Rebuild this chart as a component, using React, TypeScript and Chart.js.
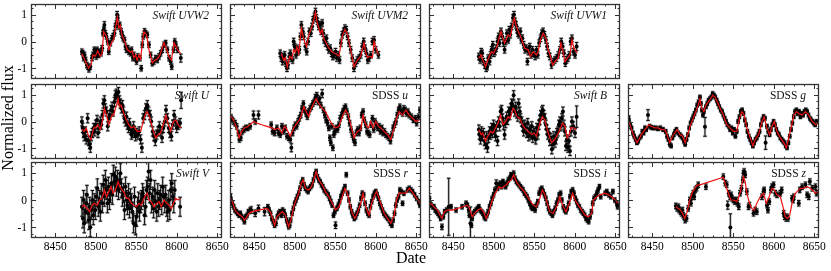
import React, { useEffect, useRef } from "react";
import { Chart, registerables } from "chart.js";
Chart.register(...registerables);

const X_MIN = 8420;
const X_MAX = 8656;
const Y_MIN = -1.4;
const Y_MAX = 1.4;
const xTickValues = [8450, 8500, 8550, 8600, 8650];
const yTickValues = [-1, 0, 1];
const xMinorStep = 12.5;
const yMinorStep = 0.25;

// observations: [date, normalized flux, optional error]
const uvw2Obs = [[8482.9,-0.38],[8484.2,-0.44],[8485,-0.62],[8486.2,-0.5],[8487.5,-0.69],[8489.1,-0.88],[8490.4,-0.94],[8491.6,-1.04],[8493.3,-0.94],[8495.4,-0.62],[8496.6,-0.5],[8498.2,-0.31],[8499.5,-0.44],[8500.7,-0.56],[8501.6,-0.31],[8503.6,-0.5],[8504.9,-0.38],[8506.5,-0.44],[8507.8,-0.25],[8509,0.31],[8509.8,0.44],[8510.7,0.62,0.12],[8511.9,0.31],[8513.2,0.19],[8514.8,0],[8516.1,-0.38],[8518.1,-0.06],[8520.2,0.12],[8521.4,0.19],[8523.1,0.31],[8524.3,0.56],[8525.6,0.69],[8526.4,1.0,0.12],[8527.2,0.88],[8528.5,0.56],[8529.7,0.62],[8531.4,0.38],[8532.6,0.25],[8533.9,0.12],[8535.5,0.06],[8536.8,-0.19],[8538,-0.31],[8539.6,-0.25],[8540.9,-0.38],[8543,-0.44],[8544.2,-0.31],[8545.9,-0.62],[8547.1,-0.5],[8549.2,-0.62],[8550.4,-0.75],[8552.1,-0.56],[8554.6,-0.62],[8556.2,-1.0],[8557.5,-0.12],[8558.7,0.19],[8560.3,0.38],[8561.6,0.31],[8563.7,0.25],[8565.7,-0.12],[8567.8,-0.5],[8569.9,-0.81],[8571.9,-0.75],[8574,-0.62],[8576.1,-0.69],[8578.2,-0.56],[8580.2,-0.44],[8582.3,-0.31],[8584.4,-0.12],[8586.4,-0.06],[8588.5,-0.31],[8590.6,-0.62],[8592.6,-0.75],[8593.9,-0.94],[8596,-0.31],[8597.6,0],[8598.9,-0.12],[8600.9,-0.31],[8605.1,-0.62,0.15]];
const uvw2Model = [[8482.9,-0.45],[8485,-0.6],[8488.3,-0.8],[8491.2,-1.0],[8494.1,-0.85],[8496.6,-0.5],[8499.5,-0.55],[8502.4,-0.35],[8505.7,-0.55],[8507.8,-0.45],[8509.8,0.37],[8513.2,0.2],[8516.1,-0.3],[8520.2,0.0],[8522.3,0.1],[8524.3,0.5],[8526.8,0.9],[8528.5,0.5],[8530.5,0.6],[8532.6,0.2],[8534.7,0.1],[8536.8,-0.1],[8538.8,-0.3],[8543,-0.4],[8545,-0.35],[8547.1,-0.6],[8549.2,-0.5],[8551.2,-0.7],[8553.3,-0.5],[8555.4,-0.65],[8557.5,-0.1],[8559.5,0.37],[8562.8,0.25],[8565.7,-0.3],[8569.9,-0.8],[8572.8,-0.7],[8576.1,-0.65],[8579.4,-0.5],[8584.4,-0.05],[8587.7,-0.3],[8590.6,-0.6],[8593.5,-0.7],[8596.8,-0.05],[8600.9,-0.3],[8605.1,-0.45]];

const uvm2Obs = [[8482.1,-0.44],[8483.4,-0.62],[8485,-0.75],[8486.3,-0.56],[8487.5,-0.5],[8489.1,-0.81],[8490.4,-1.0],[8491.6,-0.88],[8493.3,-0.56],[8494.5,-0.44],[8495.8,-0.62],[8497.4,-0.69],[8498.7,0],[8499.9,-0.19],[8501.6,-0.5],[8502.8,-0.25],[8504.1,-0.38],[8505.7,-0.31],[8507,0.19],[8508.2,0.62],[8509.8,0.38],[8511.1,0.19],[8513.2,-0.19],[8514.8,-0.38],[8516.5,0],[8518.1,0.38],[8519.8,0.31],[8521.4,0.56],[8522.7,0.81],[8524.3,0.94],[8525.6,1.12],[8526.8,0.88],[8528.1,0.75],[8529.7,0.56],[8531,0.62],[8532.6,0.38],[8533.9,0.69],[8535.1,0.31],[8536.3,0.06],[8538,-0.06],[8539.2,0.12],[8540.5,-0.19],[8542.1,-0.31],[8543.8,-0.25],[8545.5,-0.44],[8547.1,-0.56],[8548.8,-0.5],[8550.4,-0.38],[8552.1,-0.62],[8553.7,-0.5],[8555.4,-0.69],[8557,-0.06],[8558.7,0.25],[8560.4,0.38],[8562,0.5],[8563.7,0.44],[8565.3,0.19],[8567,-0.06],[8569.1,-0.31],[8571.1,-0.62],[8573.2,-1.0],[8575.3,-0.81],[8577.3,-0.69],[8579.4,-0.62],[8581.5,-0.5],[8583.5,-0.19],[8585.2,0],[8586.9,-0.25],[8588.5,-0.44],[8590.2,-0.69],[8591.8,-0.62],[8593.9,-0.5],[8596,0],[8598,0.06],[8600.1,-0.31],[8603.4,-0.5]];
const uvm2Model = [[8483.4,-0.45],[8486.3,-0.7],[8488.3,-0.6],[8490.8,-0.95],[8493.7,-0.55],[8496.6,-0.65],[8498.7,-0.3],[8500.7,-0.4],[8502.8,-0.2],[8504.9,-0.45],[8508.2,0.5],[8511.1,0.1],[8514.4,-0.2],[8517.3,0.25],[8520.6,0.5],[8523.5,0.8],[8525.6,1.1],[8527.7,0.7],[8529.7,0.5],[8531.8,0.3],[8533.9,0.45],[8535.9,0.1],[8538,0.0],[8542.1,-0.25],[8546.3,-0.4],[8550.4,-0.45],[8554.6,-0.55],[8556.6,-0.2],[8558.7,0.2],[8562,0.45],[8564.9,0.3],[8569.1,-0.3],[8573.2,-0.95],[8577.3,-0.7],[8581.5,-0.55],[8585.6,-0.05],[8587.7,-0.4],[8589.8,-0.6],[8592.6,-0.55],[8596,-0.6],[8598,0.0],[8600.1,-0.2],[8603.4,-0.5]];

const uvw1Obs = [[8481.6,-0.56],[8483.2,-0.69],[8484.5,-0.38],[8485.7,-0.44],[8487.3,-0.75],[8489,-0.88],[8490.7,-1.0],[8491.9,-0.94],[8493.1,-0.62],[8494.8,-0.75],[8496,-0.5],[8497.3,-0.31],[8498.9,-0.12],[8500.2,-0.44],[8501.4,-0.38],[8503.1,-0.25],[8504.7,0],[8506,0.19],[8507.2,-0.06],[8508.9,0.38],[8510.5,0.19],[8512.2,-0.06],[8513.4,-0.31],[8514.7,0],[8516.3,0.31],[8518,0.06],[8519.2,0.44],[8520.5,0.25],[8522.1,0.56],[8523.8,0.88],[8525,1.0],[8526.3,0.75],[8527.5,0.62],[8528.7,0.44],[8530,0.31],[8531.2,0.25],[8532.9,0.38],[8534.1,0.06],[8535.4,0.12],[8537,-0.12],[8538.7,-0.31],[8540.3,-0.25],[8541.6,-0.75],[8542.8,-0.38],[8544.5,-0.19],[8546.1,-0.5],[8547.8,-0.31],[8549.4,-0.44],[8551.1,-0.56],[8552.8,-0.31],[8554.4,-0.5],[8556.1,-0.06],[8557.7,0.12],[8559.4,0.31],[8561,0.38],[8562.7,0.25],[8564.4,0.06],[8566,-0.19],[8567.7,-0.44],[8569.3,-0.56],[8571.4,-0.88],[8573.5,-0.75],[8575.5,-0.69],[8577.6,-0.62],[8579.7,-0.5],[8581.7,-0.31],[8583.4,0],[8585.1,-0.19],[8586.7,-0.44],[8588.4,-0.81],[8590,-0.69],[8591.7,-0.62],[8593.3,-0.5],[8595,0],[8596.6,0.12],[8598.3,-0.38],[8600.4,-0.5],[8602.4,-0.19,0.15]];
const uvw1Model = [[8481.6,-0.62],[8484.5,-0.5],[8486.5,-0.69],[8489.8,-0.94],[8492.7,-0.69],[8496.9,-0.38],[8499.8,-0.44],[8503.9,-0.19],[8508.9,0.38],[8511.4,0.12],[8513.4,-0.06],[8517.6,0.25],[8520.5,0.19],[8523,0.56],[8525.4,0.88],[8527.9,0.56],[8531.2,0.31],[8534.1,0.12],[8538.3,-0.25],[8542.4,-0.31],[8545.3,-0.56],[8548.6,-0.38],[8552.8,-0.5],[8554.8,-0.38],[8557.7,0.06],[8561,0.31],[8564.4,0.12],[8567.3,-0.31],[8570.1,-0.56],[8572.6,-0.88],[8575.5,-0.75],[8579.7,-0.62],[8583,-0.06],[8585.1,-0.31],[8588,-0.75],[8590.8,-0.62],[8594.2,-0.5],[8596.6,0.06],[8599.1,-0.25],[8603.3,-0.44]];

const uObs = [[8482.9,0],[8483.8,-0.24],[8485,-0.43],[8485.8,-0.55],[8487.1,-0.37],[8488.3,-0.67],[8490,0.12],[8491.2,-0.73],[8492.5,-0.85],[8493.3,-0.98],[8494.5,-0.55],[8495.8,-0.43],[8497.4,-0.24],[8498.7,-0.37],[8499.9,-0.12],[8501.6,0.06],[8502.8,-0.43],[8504,-0.24],[8505.7,0],[8506.9,-0.12],[8508.2,0.24],[8509.4,0.67],[8510.7,0.79],[8511.9,0.49],[8513.2,0.37],[8514.8,-0.18],[8516.1,0.12],[8517.3,0.24],[8519,0.43],[8520.2,0.55],[8521.4,0.37],[8523.1,0.73],[8524.3,0.98],[8525.6,1.04],[8526.8,0.91],[8528.1,1.1],[8529.3,0.79],[8530.5,0.67],[8531.8,0.49],[8533,0.61],[8534.3,0.37],[8535.5,0.12],[8536.8,0],[8538,0.18],[8539.2,-0.12],[8540.5,-0.24],[8541.7,-0.06],[8543,-0.3],[8544.2,-0.49],[8545.4,-0.43],[8546.7,-0.18],[8547.9,-0.37],[8549.2,-0.55],[8550.4,-0.43],[8552.1,-0.49],[8553.7,-0.37],[8555.4,-0.67],[8557,-0.98],[8558.7,0.12],[8560.3,0.24],[8562,0.49],[8563.7,0.61],[8565.3,0.37],[8567,0.24],[8568.6,0],[8570.3,-0.37],[8571.9,-0.55],[8573.6,-0.73],[8575.3,-0.49],[8576.9,-0.37],[8578.6,-0.18],[8580.2,-0.37],[8581.9,-0.61],[8583.5,-0.24],[8585.2,0],[8586.8,0.43],[8588.5,0.12],[8590.2,-0.24],[8591.8,-0.43],[8593.5,-0.55],[8595.1,-0.12],[8596.8,0.24],[8598.4,0],[8600.1,-0.24],[8602.2,-0.12],[8604.2,-0.06],[8605.5,0.79,0.3]];
const uModel = [[8482.9,-0.3],[8485.8,-0.37],[8488.3,-0.24],[8491.2,-0.55],[8494.1,-0.67],[8497.4,-0.24],[8499.5,-0.24],[8502.4,-0.12],[8505.7,-0.3],[8509,0.12],[8510.7,0.49],[8513.2,0.24],[8516.1,-0.12],[8520.2,0.24],[8522.3,0.24],[8524.3,0.49],[8526.4,0.67],[8527.6,0.85],[8529.3,0.55],[8531.4,0.61],[8533.9,0.37],[8536.8,0.12],[8540.9,-0.12],[8543.8,-0.24],[8547.1,-0.18],[8551.2,-0.37],[8555.4,-0.37],[8558.7,0],[8561.6,0.3],[8563.7,0.37],[8567,0.12],[8569.9,-0.24],[8574,-0.61],[8576.9,-0.49],[8580.2,-0.43],[8584.4,0],[8586.8,0.24],[8589.7,-0.12],[8592.6,-0.37],[8596,0],[8598.9,0.06],[8601.7,-0.12],[8605.1,-0.24]];

const bObs = [[8481.6,-0.3],[8482.4,-0.49],[8483.6,-0.67],[8484.9,-0.37],[8486.1,-0.55],[8487.3,-0.43],[8488.6,-0.73],[8489.8,-0.85],[8491.1,-0.55],[8492.3,-0.98],[8493.6,-0.61],[8494.8,-0.37],[8496,-0.49],[8497.3,-0.24],[8498.5,-0.43],[8499.8,-0.12],[8501,-0.3],[8502.3,-0.55],[8503.5,-0.18],[8504.7,-0.73],[8506,0],[8507.2,-0.18],[8508.5,0.37],[8509.7,0.43],[8510.9,0.12],[8512.2,-0.12],[8513.4,-0.49],[8514.7,-0.06],[8515.9,0.18],[8517.2,0.06],[8518.4,0.37],[8519.6,0.24],[8520.9,0.49],[8522.1,0.67],[8523.4,0.61],[8524.6,0.98],[8525.9,0.37],[8527.1,0.55],[8528.3,0.3],[8529.6,0.18],[8530.8,0.67],[8532.1,0.37],[8533.3,0.12],[8534.5,0],[8535.8,-0.18],[8537,-0.37],[8538.3,-0.12],[8539.5,-0.24],[8540.8,-0.43],[8542,-0.06],[8543.2,-0.55],[8544.5,-0.3],[8545.7,-0.49],[8547,-0.18],[8548.2,-0.61],[8549.4,-0.37],[8550.7,-0.43],[8551.9,-0.67],[8553.2,-0.24],[8554.4,-0.49],[8555.7,-0.12],[8556.9,0.06],[8558.1,0.24],[8559.4,0.37],[8560.6,0.43],[8561.9,0.24],[8563.1,0.12],[8564.4,-0.12],[8565.6,-0.3],[8566.8,-0.49],[8568.1,-0.43],[8569.3,-0.73],[8570.6,-0.61],[8571.8,-1.04],[8573,-0.85],[8574.3,-0.55],[8575.5,-0.79],[8576.8,-0.67],[8578,-0.43],[8579.3,-0.37],[8580.5,-0.12],[8581.7,0],[8583,-0.18],[8584.2,0.12],[8585.5,0.37],[8586.7,-0.12],[8588,-0.37],[8589.2,-0.91],[8590.4,-0.67],[8591.7,-0.98],[8592.9,-0.73],[8594.2,-1.1],[8595.4,-0.37],[8596.6,0],[8598.3,-0.18],[8600.4,-0.43],[8602.4,0.18,0.4]];
const bModel = [[8481.6,-0.3],[8484.5,-0.49],[8486.5,-0.43],[8489.8,-0.73],[8492.7,-0.55],[8496,-0.37],[8498.9,-0.43],[8502.3,-0.24],[8505.2,-0.06],[8508.5,0.24],[8511.4,-0.12],[8514.7,0],[8517.6,0.18],[8520.5,0.12],[8523.8,0.49],[8525.9,0.43],[8528.7,0.18],[8532.1,0.12],[8535.4,-0.12],[8538.3,-0.24],[8542.4,-0.37],[8546.6,-0.49],[8549.9,-0.43],[8552.8,-0.55],[8554.8,-0.3],[8557.7,0],[8560.2,0.18],[8563.1,0.06],[8567.3,-0.43],[8571.4,-0.79],[8575.5,-0.67],[8579.7,-0.43],[8582.6,-0.24],[8585.1,-0.06],[8588,-0.18],[8590.8,-0.61],[8593.3,-0.49],[8595.4,-0.24],[8598.3,-0.24],[8602.4,-0.3]];

const vObs = [[8482.9,-0.25],[8484.2,-0.68],[8485,0],[8485.8,-0.86],[8487.1,-0.43],[8488.3,-0.12],[8489.1,0.19],[8490.4,-0.49],[8491.6,-0.74],[8492.5,-0.25],[8493.3,-1.0],[8494.5,-0.37],[8495.8,0],[8497,-0.56],[8498.2,-0.12],[8499.5,-0.37],[8500.7,0.12],[8502,0.43],[8503.2,-0.25],[8504.5,0],[8505.7,-0.43],[8506.9,0.25],[8508.2,-0.12],[8509.4,0.56],[8510.7,0.12],[8511.9,0.74],[8513.2,0.37],[8514.4,-0.12],[8515.6,0.49],[8516.9,0],[8518.1,0.25],[8519.4,0.62],[8520.6,0.19],[8521.8,0.93],[8523.1,0.68],[8524.3,0.86],[8525.6,0.49],[8526.8,0.74],[8528.1,0.37],[8529.3,0.62],[8530.5,0.99],[8531.8,0.43],[8533,0.12],[8534.3,0.25],[8535.5,-0.37],[8536.8,0.49],[8538,0],[8539.2,-0.19],[8540.5,0.25],[8541.7,-0.31],[8543,0.06],[8544.2,-0.12],[8545.4,-0.43],[8546.7,-0.86],[8547.9,0.12],[8549.2,-0.93],[8550.4,-0.62],[8551.7,-0.25],[8552.9,-0.06],[8554.1,-0.43],[8555.4,-0.12],[8556.6,0],[8557.9,0.25],[8559.1,0.12],[8560.3,-0.56],[8561.6,-0.25],[8562.8,0.37],[8564.1,0.49],[8565.3,1.05],[8566.6,0.25],[8567.8,0.74],[8569,-0.12],[8570.3,0.12],[8571.5,-0.31],[8572.8,0.37],[8574,-0.06],[8575.3,-0.43],[8576.5,0.25],[8577.7,-0.25],[8579,0],[8580.2,0.19],[8581.5,-0.19],[8582.7,0.49],[8583.9,0.12],[8585.2,-0.12],[8586.4,0.19],[8587.7,-0.25],[8588.9,-0.43],[8590.2,0],[8591.4,-0.37],[8592.6,0.37],[8593.9,0.62],[8595.1,0.12],[8596.4,-0.12],[8597.6,0.37],[8604.2,-0.25]];
const vModel = [[8482.9,-0.25],[8485.8,-0.19],[8489.1,-0.31],[8492.5,-0.43],[8495.4,-0.19],[8498.7,-0.12],[8501.6,-0.19],[8504.9,0],[8507.8,0.06],[8510.7,0.37],[8513.2,0.12],[8516.1,0.31],[8519,0.49],[8521.4,0.25],[8524.3,0.37],[8526.4,0.56],[8527.6,0.68],[8529.7,0.49],[8532.6,0.37],[8535.5,0.25],[8538,0.06],[8540.9,0.06],[8543.8,-0.12],[8547.1,-0.19],[8550.4,-0.25],[8553.3,-0.12],[8556.2,-0.19],[8558.7,0],[8561.6,0.19],[8563.7,0.25],[8565.7,0],[8568.6,-0.06],[8571.9,-0.25],[8575.3,-0.12],[8578.2,-0.06],[8581,-0.25],[8584.4,0],[8587.7,-0.12],[8590.6,-0.19],[8593.5,-0.31],[8596,-0.12],[8598.9,0.06],[8601.7,0],[8604.2,0.06]];

const sdssUObs = [[8421.3,0.15],[8422.9,0.06],[8424.2,0],[8426.2,-0.06],[8428.3,-0.18],[8430.4,-0.43],[8431.6,-0.67],[8433.3,-0.61],[8435.3,-0.37],[8437.4,-0.3],[8439.5,-0.24],[8442,-0.24],[8444.9,-0.18],[8449,0.24,0.15],[8451.1,0],[8455.2,0.24,0.15],[8470.9,-0.12],[8472.6,-0.37],[8475.1,-0.43],[8478,-0.24],[8480,-0.43],[8482.1,-0.49],[8484.2,-0.18],[8486.3,-0.37],[8488.3,-0.24],[8490.4,-0.55],[8492.5,-0.61],[8494.5,-0.67],[8495.8,-0.98,0.15],[8497.4,-0.43],[8499.1,-0.24],[8500.7,-0.12],[8502.4,-0.18],[8504.1,0],[8505.7,0.12],[8507.4,0.24],[8509,0.49],[8510.7,0.67],[8512.3,0.43],[8514,0.3],[8515.6,0.18],[8517.3,0.37],[8519,0.49],[8520.6,0.55],[8522.3,0.67],[8523.9,0.73],[8525.6,0.91],[8527.2,0.98],[8528.9,0.73],[8530.5,0.85],[8532.2,0.61],[8533.9,1.04,0.15],[8535.5,0.43],[8537.2,0.24],[8538.8,0.06],[8540.5,-0.06],[8542.1,-0.24],[8543.4,-0.61],[8544.6,-0.79],[8545.9,-0.18],[8547.1,-0.98],[8548.4,-0.49],[8549.6,-0.37],[8551.2,-0.24],[8552.9,-0.3],[8554.6,-0.12],[8556.2,0.12],[8557.9,0.24],[8559.5,0.37],[8561.2,0.49],[8562.8,0.55],[8564.5,0.37],[8566.2,0.18],[8567.8,-0.06],[8569.5,-0.3],[8571.1,-0.49],[8572.8,-0.67],[8574.4,-0.79],[8576.1,-0.43],[8577.7,-0.3],[8579.4,-0.43],[8581.1,-0.24],[8582.7,0.24],[8584.4,0.37],[8586,0.06],[8587.7,-0.12],[8589.3,-0.37],[8591,-0.43],[8592.6,-0.49],[8594.3,-0.12],[8596,0.12],[8597.6,-0.3],[8599.3,0],[8600.9,-0.12],[8602.6,-0.24],[8604.2,-0.18],[8605.9,-0.37],[8607.6,-0.24],[8609.2,-0.43],[8610.9,-0.37],[8612.5,-0.49],[8614.6,-0.55],[8616.7,-0.61],[8618.3,-0.73],[8620,-0.49],[8621.6,-0.24],[8623.3,-0.12],[8625,0],[8626.6,0.24],[8628.3,0.43],[8629.9,0.55],[8631.6,0.37],[8633.2,0.3],[8634.9,0.49],[8636.5,0.43],[8638.2,0.3],[8639.8,0.37],[8641.5,0.24],[8644,0.18],[8646.5,0.06],[8649,0.12],[8650.6,-0.06],[8653.1,0.18],[8654.7,0.43]];
const sdssUModel = [[8420,0.24],[8424.2,0.06],[8428.3,-0.24],[8431.2,-0.61],[8434.5,-0.37],[8437.8,-0.24],[8442.8,-0.18],[8449,0],[8453.1,-0.06],[8459.3,-0.12],[8465.6,-0.18],[8471.8,-0.24],[8475.9,-0.3],[8480,-0.24],[8484.2,-0.43],[8487.5,-0.18],[8490.4,-0.3],[8494.5,-0.55],[8498.7,-0.24],[8502.8,-0.06],[8507,0.12],[8511.1,0.55],[8514,0.37],[8517.3,0.18],[8519.4,0.43],[8522.3,0.61],[8526.4,0.85],[8529.7,0.67],[8533.9,0.49],[8538,0.37],[8542.1,0.12],[8546.3,-0.12],[8550.4,-0.24],[8554.6,-0.18],[8558.7,0.18],[8562.8,0.43],[8566.2,0.24],[8569.1,-0.12],[8573.2,-0.61],[8577.3,-0.37],[8581.5,-0.3],[8584.4,0.24],[8587.7,-0.12],[8591,-0.24],[8593.9,0],[8596.8,-0.24],[8600.1,0],[8603.4,-0.18],[8606.3,-0.24],[8610.5,-0.37],[8614.6,-0.49],[8618.7,-0.67],[8622.9,-0.24],[8625.8,0.12],[8629.1,0.37],[8633.2,0.24],[8637.4,0.43],[8641.5,0.24],[8645.6,0.12],[8649.8,0],[8653.9,0.06]];

const gObs = [[8420.6,0.12],[8421.1,0.02],[8422.7,-0.12],[8424.4,-0.24],[8426.1,-0.43],[8427.7,-0.55],[8429.4,-0.67],[8431,-0.79],[8432.7,-0.73],[8434.3,-0.61],[8436,-0.55],[8437.7,-0.37],[8439.3,-0.43],[8441,-0.24],[8442.6,-0.3],[8444.7,0.24,0.2],[8446.8,-0.18],[8448.8,-0.22],[8450.9,-0.24],[8454.2,-0.24],[8457.1,-0.27],[8460,-0.24],[8463.3,-0.3],[8466.6,-0.37],[8468.3,-0.55],[8469.9,-0.67],[8471.6,-0.85],[8473.3,-0.91],[8474.9,-0.61],[8476.6,-0.49],[8478.2,-0.37],[8479.9,-0.3],[8482,-0.43],[8484,-0.49],[8485.7,-0.55],[8487.3,-0.61],[8489,-0.73],[8490.6,-0.85],[8492.3,-0.67],[8494,-0.49],[8495.6,-0.24],[8497.3,-0.06],[8498.9,0.06],[8500.6,0.18],[8502.2,0.3],[8503.9,0.43],[8505.5,0.61],[8507.2,0.73],[8508.9,0.91],[8510.1,0.67],[8511.3,0.43],[8512.6,0.24],[8513.8,0.37],[8515.1,-0.2,0.35],[8516.3,0.55],[8518,0.67],[8519.6,0.79],[8521.3,0.85],[8522.9,0.91],[8524.6,1.04],[8526.2,0.98],[8527.9,0.91],[8529.6,0.79],[8531.2,0.67],[8532.9,0.55],[8534.5,0.43],[8536.2,0.37],[8537.8,0.24],[8539.5,0.12],[8541.2,0],[8542.8,-0.12],[8544.5,-0.18],[8546.1,-0.3],[8547.8,-0.24],[8549.4,-0.43],[8551.1,-0.3],[8552.7,-0.55],[8554.4,-0.37],[8556.1,0],[8557.7,0.18],[8559.4,0.37],[8561,0.43],[8562.7,0.3],[8564.3,0.06],[8566,-0.12],[8567.6,-0.37],[8569.3,-0.55],[8571,-0.67],[8572.6,-0.79],[8574.3,-0.91],[8575.9,-0.79],[8577.6,-0.67],[8579.2,-0.61],[8580.9,-0.49],[8582.5,-0.37],[8584.2,-0.12],[8585.9,0.06],[8587.5,0.18],[8589.2,0.12],[8590,-0.79,0.25],[8591.7,-0.18],[8593.3,-0.37],[8595,-0.49],[8596.6,-0.3],[8598.3,-0.12],[8599.9,0],[8601.6,-0.12],[8603.3,-0.3],[8604.9,-0.43],[8606.6,-0.49],[8608.2,-0.61],[8609.9,-0.67],[8611.5,-0.73],[8613.2,-0.79],[8614.8,-0.91],[8616.5,-0.98],[8618.2,-0.79],[8619.8,-0.55],[8621.5,-0.3],[8623.1,-0.06],[8624.8,0.18],[8626.4,0.37],[8628.1,0.43],[8629.7,0.3],[8631.4,0.37],[8633.1,0.18],[8634.7,0.3],[8636.4,0.24],[8638,0.37],[8639.7,0.43],[8641.3,0.37],[8643,0.24],[8644.7,0.12],[8646.3,0.06],[8648,0],[8649.6,-0.06],[8651.3,-0.12],[8652.9,0]];
const gModel = [[8420,0.06],[8421.9,-0.06],[8425.2,-0.37],[8428.1,-0.61],[8431,-0.79],[8433.5,-0.67],[8436.4,-0.49],[8439.3,-0.37],[8442.6,-0.24],[8445.9,-0.12],[8448.8,-0.18],[8453,-0.24],[8457.1,-0.24],[8461.3,-0.3],[8465.4,-0.3],[8467.5,-0.43],[8471.6,-0.79],[8474.9,-0.55],[8477.8,-0.43],[8480.7,-0.3],[8484,-0.49],[8487.3,-0.55],[8490.6,-0.79],[8494.4,-0.43],[8497.3,-0.12],[8500.6,0.12],[8503.9,0.37],[8506.8,0.61],[8508.9,0.85],[8510.9,0.49],[8513.8,0.37],[8516.3,0.61],[8519.2,0.73],[8522.1,0.85],[8524.6,0.98],[8527.5,0.91],[8530.4,0.73],[8533.7,0.49],[8537.8,0.24],[8542,-0.12],[8546.1,-0.24],[8550.3,-0.37],[8554.4,-0.37],[8557.7,0.12],[8560.6,0.37],[8563.5,0.24],[8566.8,-0.24],[8571,-0.61],[8574.3,-0.91],[8577.2,-0.67],[8581.3,-0.49],[8585.5,0],[8588.3,0.18],[8591.7,-0.24],[8595,-0.49],[8597.9,-0.18],[8600.8,0],[8604.1,-0.37],[8608.2,-0.61],[8612.4,-0.79],[8615.7,-0.98],[8618.6,-0.61],[8621.5,-0.24],[8624.8,0.24],[8628.1,0.37],[8631,0.3],[8635.1,0.24],[8639.3,0.37],[8643.4,0.24],[8647.6,0],[8651.7,-0.12],[8653.8,-0.06]];

const rObs = [[8420.5,0.12],[8421.3,0],[8422.9,-0.12],[8424.6,-0.25],[8426.2,-0.37],[8427.9,-0.43],[8429.5,-0.49],[8431.2,-0.56],[8432.8,-0.49],[8434.5,-0.62],[8436.6,-0.68],[8437.8,-0.8],[8439.5,-0.62],[8441.1,-0.56],[8442.8,-0.43],[8444.9,-0.37],[8446.1,-0.37,0.12],[8451.1,-0.49,0.12],[8455.2,-0.31,0.12],[8462.7,-0.43,0.15],[8466.8,-0.25],[8468.4,-0.37],[8470.1,-0.49],[8471.8,-0.68],[8473.4,-0.8],[8475.1,-0.93],[8476.7,-0.86],[8478.4,-0.62],[8480,-0.49],[8481.7,-0.43],[8483.4,-0.56],[8485,-0.37],[8486.7,-0.43],[8488.3,-0.56],[8490,-0.74],[8491.6,-0.86],[8492.5,-0.99],[8493.7,-0.93],[8494.9,-0.74],[8496.6,-0.49],[8498.3,-0.31],[8499.9,-0.12],[8501.6,0],[8503.2,0.12],[8504.9,0.25],[8506.5,0.43],[8508.2,0.62],[8509.8,0.74],[8511.5,0.56],[8513.2,0.43],[8514.8,0.37],[8516.5,0.31],[8518.1,0.43],[8519.8,0.49],[8521.4,0.56],[8523.1,0.74],[8524.8,0.93],[8526.4,1.05],[8528.1,0.86],[8529.7,0.74],[8531.4,0.68],[8533,0.56],[8534.7,0.49],[8536.3,0.37],[8538,0.31],[8539.7,0.25],[8541.3,0.19],[8543,0.06],[8544.6,-0.06],[8546.3,-0.19],[8547.9,-0.56],[8549.6,-0.43],[8550.4,-0.93,0.12],[8552.1,-0.31],[8553.7,-0.19],[8555.4,-0.06],[8557,0.12],[8558.7,0.25],[8560.4,0.37],[8562,0.49],[8563.7,0.93],[8565.3,0.25],[8567,0],[8568.6,-0.25],[8570.3,-0.43],[8571.9,-0.56],[8573.6,-0.68],[8575.3,-0.62],[8576.9,-0.49],[8578.6,-0.37],[8580.2,-0.19],[8581.9,0.06],[8583.5,0.25],[8585.2,0.19],[8586.9,-0.12],[8588.5,-0.37],[8590.2,-0.49],[8591.8,-0.56],[8593.5,-0.25],[8595.1,-0.06],[8596.8,0.12],[8598.4,0.25],[8600.1,0.31],[8601.8,0.19],[8603.4,0.06],[8605.1,-0.12],[8606.7,-0.25],[8608.4,-0.37],[8610,-0.49],[8611.7,-0.56],[8613.3,-0.62],[8615,-0.68],[8616.7,-0.74],[8618.3,-0.86],[8620,-0.93],[8621.6,-0.74],[8623.3,-0.49],[8624.9,-0.19],[8626.6,0],[8628.3,0.12],[8629.9,0.37],[8631.6,0.31],[8633.2,-0.12],[8634.9,0.25],[8639.4,0.37],[8641.5,0.43],[8643.6,0.37],[8645.6,0.31],[8648.1,0.19],[8650.6,0.06],[8653.1,-0.06],[8654.7,-0.19]];
const rModel = [[8420,0.06],[8422.9,-0.06],[8426.2,-0.37],[8429.5,-0.49],[8432.4,-0.56],[8435.3,-0.62],[8437.8,-0.74],[8440.7,-0.62],[8443.6,-0.49],[8446.9,-0.43],[8465.6,-0.31],[8469.7,-0.43],[8472.6,-0.68],[8475.1,-0.93],[8478,-0.62],[8482.1,-0.49],[8485,-0.43],[8488.3,-0.56],[8492.5,-0.99],[8495.8,-0.68],[8498.7,-0.25],[8501.6,0],[8504.9,0.25],[8508.2,0.62],[8510.3,0.74],[8513.2,0.43],[8517.3,0.37],[8520.6,0.49],[8523.5,0.74],[8526.4,1.05],[8529.7,0.74],[8533.9,0.56],[8538,0.31],[8542.1,0.12],[8546.3,-0.12],[8550.4,-0.37],[8554.6,-0.25],[8558.7,0.12],[8562,0.43],[8564.9,0.25],[8567.8,-0.12],[8571.1,-0.49],[8574.4,-0.68],[8577.3,-0.49],[8581.5,-0.12],[8584.4,0.25],[8587.7,-0.25],[8591.8,-0.56],[8595.1,-0.12],[8598,0.12],[8600.9,0.31],[8604.2,0.06],[8607.6,-0.25],[8610.5,-0.49],[8614.6,-0.68],[8618.7,-0.86],[8622.9,-0.56],[8625.8,0],[8629.1,0.25],[8633.2,0.25],[8637.4,0.25],[8641.5,0.43],[8644.8,0.31],[8647.7,0.19],[8651.9,0],[8654.7,-0.12]];

const iObs = [[8420.5,0.06],[8421.1,-0.12],[8422.8,-0.19],[8424.4,-0.25],[8426.1,-0.25],[8427.7,-0.37],[8429.4,-0.43],[8431,-0.49],[8432.7,-0.56],[8434.4,-0.68],[8436,-0.99,0.1],[8437.7,-0.62],[8439.3,-0.43],[8441.8,-0.37],[8444.3,-0.25,1.05],[8447.2,-0.25],[8453.4,-0.37],[8460.9,-0.25],[8465.8,-0.12],[8467.5,-0.19],[8469.1,-0.37],[8470,-0.56],[8471.2,-0.86,0.6],[8472.4,-0.93],[8473.3,-0.68],[8474.9,-0.49],[8476.6,-0.43],[8478.2,-0.37],[8479.9,-0.31],[8481.6,-0.25],[8483.2,-0.37],[8484.9,-0.43],[8486.5,-0.49],[8488.2,-0.62],[8489.8,-0.68],[8491.5,-0.56],[8493.1,-0.43],[8494.8,-0.25],[8496.5,-0.12],[8498.1,0.06],[8499.8,0.19],[8501.4,0.37],[8503.1,0.62,0.12],[8504.7,0.43],[8506.4,0.56],[8508,0.62],[8509.7,0.49],[8511.4,0.68],[8513,0.56],[8514.7,0.49],[8516.3,0.62],[8518,0.74],[8519.6,0.8],[8521.3,0.93],[8523,0.86],[8524.6,0.99],[8526.3,0.8],[8527.9,0.68],[8529.6,0.62],[8531.2,0.56],[8532.9,0.49],[8534.5,0.43],[8536.2,0.37],[8537.9,0.25],[8539.5,0.19],[8541.2,0.12],[8542.8,0],[8544.5,-0.12],[8546.1,-0.25],[8547.8,-0.31],[8549.4,-0.25],[8551.1,-0.37],[8552.8,-0.19],[8554.4,-0.06],[8556.1,0.25],[8557.7,0.37],[8559.4,0.43],[8561,0.31],[8562.7,0.19],[8564.4,0.06],[8566,-0.12],[8567.7,-0.31],[8569.3,-0.43],[8571,-0.49],[8572.6,-0.56],[8574.3,-0.43],[8575.9,-0.31],[8577.6,-0.12],[8579.3,0],[8580.9,0.19],[8582.6,0.25],[8584.2,0],[8585.9,-0.25],[8587.5,-0.37],[8589.2,-0.43],[8590.8,-0.31],[8592.5,-0.12],[8594.2,0.12],[8595.8,0.31],[8597.5,0.37],[8599.1,0.25],[8600.8,0.06],[8602.4,-0.06],[8604.1,-0.19],[8605.8,-0.25],[8607.4,-0.37],[8609.1,-0.43],[8610.7,-0.49],[8612.4,-0.56],[8614,-0.68],[8615.7,-0.74],[8617.3,-0.8],[8619,-0.62],[8620.7,-0.43],[8622.3,-0.12],[8624,0.06],[8625.6,0.12],[8627.3,0.25],[8628.9,0.37],[8630.6,0.49],[8632.2,0.12],[8637.6,0.25],[8639.7,0.31],[8642.2,0.19],[8644.7,0.12],[8647.2,0.31],[8649.6,0],[8652.1,-0.12],[8653,-0.25]];
const iModel = [[8420.5,-0.1],[8424.4,-0.19],[8427.7,-0.31],[8430.6,-0.37],[8433.5,-0.56],[8436,-0.68],[8438.9,-0.43],[8443.1,-0.37],[8449.3,-0.37],[8455.5,-0.31],[8461.7,-0.25],[8467.9,-0.19],[8470.8,-0.37],[8473.3,-0.62],[8476.2,-0.49],[8480.3,-0.37],[8484.5,-0.31],[8487.3,-0.43],[8490.7,-0.68],[8494,-0.43],[8496.9,-0.12],[8499.8,0.12],[8503.1,0.31],[8506.4,0.49],[8509.3,0.43],[8512.2,0.49],[8515.5,0.56],[8518.8,0.68],[8521.7,0.74],[8524.6,0.93],[8527.9,0.68],[8532.1,0.49],[8536.2,0.37],[8540.3,0.19],[8544.5,0],[8548.6,-0.19],[8552.8,-0.25],[8556.9,0.06],[8560.2,0.37],[8563.1,0.19],[8566,-0.12],[8569.3,-0.43],[8573.5,-0.49],[8577.6,-0.25],[8581.7,0.12],[8585.1,-0.19],[8589.2,-0.43],[8593.3,-0.12],[8597.5,0.25],[8600.4,0],[8604.5,-0.19],[8608.7,-0.37],[8612.8,-0.56],[8616.9,-0.62],[8621.1,-0.49],[8623.1,0],[8627.3,0.12],[8631.4,0.19],[8637.6,0.25],[8641.8,0.19],[8645.9,0.12],[8650.1,0],[8653,-0.12]];

const zObs = [[8479.1,-0.22],[8480.7,-0.31],[8482.4,-0.25],[8483.2,-0.37],[8484.8,-0.43],[8486.1,-0.49],[8487.3,-0.37],[8488.2,-0.56],[8489.4,-0.62],[8490.6,-0.74],[8492.3,-0.68],[8494.4,-0.31],[8496.4,0],[8497.7,-0.12],[8498.9,0.12],[8500.6,0.25],[8501.8,0.12],[8503.1,0.37],[8504.7,0.43],[8506.8,0.56],[8516.3,0.49],[8537.8,0.86],[8540.3,0.62],[8542,0.56],[8543.2,-0.19,0.15],[8544.5,0.25],[8546.1,0.12],[8546.5,-1.01,0.5],[8547.4,0.19],[8548.6,0.06],[8550.3,0],[8551.9,-0.06],[8553.6,0],[8555.2,-0.12],[8556.9,-0.25],[8558.5,0.25],[8560.2,0.43],[8561.9,0.74],[8562.7,0.99],[8563.5,1.05],[8564.8,0.93],[8566.8,0.31],[8568.9,-0.25],[8570.1,-0.19],[8575.1,-0.49],[8577.2,-0.37],[8579.2,-0.43],[8585.5,0.12],[8587.5,0.31],[8588.3,0.37],[8591.7,-0.19],[8592.9,-0.37],[8594.6,-0.06],[8596.6,0.37],[8597.9,0.49],[8599.9,0.56],[8602,0.25],[8604.1,0.19],[8608.2,0.25],[8609.9,0.37],[8612.4,-0.49],[8613.6,-0.62],[8615.3,-0.68],[8616.5,-0.62],[8617.7,-0.68],[8622.7,0.06],[8624,0],[8624.8,0.12],[8631,-0.12],[8632.2,0.37],[8635.1,0.49],[8639.3,0.56],[8641.3,0.19],[8643.4,0.12],[8644.7,0.68],[8647.6,0.43],[8651.7,0.49],[8652.9,0.25]];
const zModel = [[8479.1,-0.25],[8482,-0.31],[8484.8,-0.37],[8487.3,-0.49],[8490.2,-0.68],[8493.1,-0.43],[8496.4,0],[8499.8,0.31],[8502.7,0.43],[8505.5,0.56],[8508.9,0.56],[8537.8,0.84],[8541.2,0.49],[8544,0.25],[8547,0],[8550.3,0],[8554.4,-0.06],[8556.5,0.06],[8559.4,0.37],[8562.7,0.86],[8564.8,0.68],[8566.8,0.25],[8570.1,-0.12],[8573,-0.31],[8575.9,-0.37],[8579.2,-0.12],[8583.4,0.12],[8587.5,0.25],[8590.8,-0.12],[8593.7,0.06],[8597.9,0.43],[8600.8,0.37],[8604.1,0.19],[8608.2,0.12],[8611.5,-0.25],[8614.4,-0.62],[8617.3,-0.68],[8619.8,-0.56],[8622.7,-0.12],[8625.6,0.19],[8628.9,0.31],[8633.1,0.43],[8637.2,0.43],[8641.3,0.49],[8645.5,0.43],[8651.7,0.25],[8653.8,0.31]];

const panelTitles = {
  uvw2: [["Swift UVW2", true]],
  uvm2: [["Swift UVM2", true]],
  uvw1: [["Swift UVW1", true]],
  u: [["Swift U", true]],
  su: [["SDSS ", false], ["u", true]],
  b: [["Swift B", true]],
  g: [["SDSS ", false], ["g", true]],
  v: [["Swift V", true]],
  r: [["SDSS ", false], ["r", true]],
  i: [["SDSS ", false], ["i", true]],
  z: [["SDSS ", false], ["z", true]],
};

const panels = [
  { key: "uvw2", col: 0, row: 0, obs: uvw2Obs, model: uvw2Model, err: 0.1 },
  { key: "uvm2", col: 1, row: 0, obs: uvm2Obs, model: uvm2Model, err: 0.12 },
  { key: "uvw1", col: 2, row: 0, obs: uvw1Obs, model: uvw1Model, err: 0.12 },
  { key: "u", col: 0, row: 1, obs: uObs, model: uModel, err: 0.17 },
  { key: "su", col: 1, row: 1, obs: sdssUObs, model: sdssUModel, err: 0.1 },
  { key: "b", col: 2, row: 1, obs: bObs, model: bModel, err: 0.17 },
  { key: "g", col: 3, row: 1, obs: gObs, model: gModel, err: 0.07 },
  { key: "v", col: 0, row: 2, obs: vObs, model: vModel, err: 0.35 },
  { key: "r", col: 1, row: 2, obs: rObs, model: rModel, err: 0.08 },
  { key: "i", col: 2, row: 2, obs: iObs, model: iModel, err: 0.08 },
  { key: "z", col: 3, row: 2, obs: zObs, model: zModel, err: 0.1 },
];

const FONT = '"Liberation Serif", "DejaVu Serif", serif';
const COL_LEFT = [31, 230, 429, 628];
const ROW_TOP = [4, 84, 162];
const ROW_H = [75, 75, 76];
const PANEL_W = 191;
const Y_AXIS_W = 20;
const X_AXIS_H = 22;
const PADX = 14;
const PADY = 3;

function makeDeco(p, showX, showY) {
  return {
    id: "deco",
    beforeDatasetsDraw(chart) {
      const ctx = chart.ctx;
      const xs = chart.scales.x;
      const ys = chart.scales.y;
      const a = chart.chartArea;
      ctx.save();
      ctx.beginPath();
      ctx.rect(a.left, a.top, a.right - a.left, a.bottom - a.top);
      ctx.clip();
      for (let pass = 0; pass < 2; pass++) {
        ctx.strokeStyle = pass === 0 ? "rgba(140,140,140,0.6)" : "#000";
        ctx.lineWidth = pass === 0 ? 2.4 : 0.9;
        ctx.beginPath();
        for (const o of p.obs) {
          const e = o.length > 2 ? o[2] : p.err;
          const x = xs.getPixelForValue(o[0]);
          const y1 = ys.getPixelForValue(o[1] + e);
          const y2 = ys.getPixelForValue(o[1] - e);
          ctx.moveTo(x, y1);
          ctx.lineTo(x, y2);
          ctx.moveTo(x - 1.8, y1);
          ctx.lineTo(x + 1.8, y1);
          ctx.moveTo(x - 1.8, y2);
          ctx.lineTo(x + 1.8, y2);
        }
        ctx.stroke();
      }
      ctx.restore();
    },
    afterDraw(chart) {
      const ctx = chart.ctx;
      const xs = chart.scales.x;
      const ys = chart.scales.y;
      const a = chart.chartArea;
      ctx.save();
      ctx.strokeStyle = "#333";
      ctx.lineWidth = 1;
      ctx.beginPath();
      const isMajorX = (v) => xTickValues.some((t) => Math.abs(t - v) < 1e-6);
      for (let v = Math.ceil(X_MIN / xMinorStep) * xMinorStep; v <= X_MAX; v += xMinorStep) {
        const x = Math.round(xs.getPixelForValue(v)) + 0.5;
        const len = isMajorX(v) ? 5 : 2.5;
        ctx.moveTo(x, a.bottom);
        ctx.lineTo(x, a.bottom - len);
        ctx.moveTo(x, a.top);
        ctx.lineTo(x, a.top + len);
      }
      const isMajorY = (v) => yTickValues.some((t) => Math.abs(t - v) < 1e-6);
      for (let v = Math.ceil(Y_MIN / yMinorStep) * yMinorStep; v <= Y_MAX + 1e-9; v += yMinorStep) {
        const y = Math.round(ys.getPixelForValue(v)) + 0.5;
        const len = isMajorY(v) ? 5 : 2.5;
        ctx.moveTo(a.left, y);
        ctx.lineTo(a.left + len, y);
        ctx.moveTo(a.right, y);
        ctx.lineTo(a.right - len, y);
      }
      ctx.stroke();
      ctx.lineWidth = 1.3;
      ctx.strokeRect(a.left + 0.5, a.top + 0.5, a.right - a.left - 1, a.bottom - a.top - 1);

      // tick labels
      ctx.fillStyle = "#000";
      ctx.font = "11.5px " + FONT;
      if (showX) {
        ctx.textAlign = "center";
        ctx.textBaseline = "top";
        for (const v of xTickValues) {
          ctx.fillText(String(v), xs.getPixelForValue(v), a.bottom + 3);
        }
      }
      if (showY) {
        ctx.textAlign = "right";
        ctx.textBaseline = "middle";
        for (const v of yTickValues) {
          ctx.fillText(String(v), a.left - 4, ys.getPixelForValue(v) + 0.5);
        }
      }

      // panel title
      const parts = panelTitles[p.key];
      ctx.fillStyle = "#111";
      ctx.textBaseline = "middle";
      ctx.textAlign = "left";
      let total = 0;
      const fonts = parts.map(([t, it]) => (it ? "italic " : "") + "11.5px " + FONT);
      parts.forEach(([t], k) => {
        ctx.font = fonts[k];
        total += ctx.measureText(t).width;
      });
      let x = a.right - 13 - total;
      const y = a.top + 11.5;
      parts.forEach(([t], k) => {
        ctx.font = fonts[k];
        ctx.fillText(t, x, y);
        x += ctx.measureText(t).width;
      });
      ctx.restore();
    },
  };
}

function Panel({ p }) {
  const ref = useRef(null);
  const showY = p.col === 0;
  const showX = p.row === 2;
  const yW = showY ? Y_AXIS_W : 0;
  const xH = showX ? X_AXIS_H : 0;
  const W = PANEL_W + yW + 2 * PADX;
  const H = ROW_H[p.row] + xH + 2 * PADY;
  const left = COL_LEFT[p.col] - yW - PADX;
  const top = ROW_TOP[p.row] - PADY;

  useEffect(() => {
    const chart = new Chart(ref.current, {
      type: "scatter",
      data: {
        datasets: [
          {
            data: p.model.map((m) => ({ x: m[0], y: m[1] })),
            showLine: true,
            borderColor: "#ee1111",
            borderWidth: 1.2,
            pointRadius: 0,
            tension: 0,
            fill: false,
          },
          {
            data: p.obs.map((o) => ({ x: o[0], y: o[1] })),
            pointRadius: 2,
            backgroundColor: "#000",
            borderColor: "#000",
            borderWidth: 0,
          },
        ],
      },
      options: {
        animation: false,
        responsive: false,
        maintainAspectRatio: false,
        devicePixelRatio: 1,
        events: [],
        layout: {
          padding: { left: PADX + yW, right: PADX, top: PADY, bottom: PADY + xH },
          autoPadding: false,
        },
        plugins: { legend: { display: false }, tooltip: { enabled: false }, title: { display: false } },
        scales: {
          x: { type: "linear", min: X_MIN, max: X_MAX, display: false },
          y: { type: "linear", min: Y_MIN, max: Y_MAX, display: false },
        },
      },
      plugins: [makeDeco(p, showX, showY)],
    });
    return () => chart.destroy();
  }, []);

  return (
    <canvas
      ref={ref}
      width={W}
      height={H}
      style={{ position: "absolute", left, top, width: W, height: H }}
    />
  );
}

export default function App() {
  return (
    <div style={{ position: "absolute", left: 0, top: 0, width: 831, height: 271, background: "#fff", overflow: "hidden" }}>
      {panels.map((p) => (
        <Panel key={p.key} p={p} />
      ))}
      <div
        style={{
          position: "absolute",
          left: 8 - 70,
          top: 118 - 10,
          width: 140,
          height: 20,
          lineHeight: "20px",
          textAlign: "center",
          transform: "rotate(-90deg)",
          fontFamily: FONT,
          fontSize: 16,
          color: "#000",
          whiteSpace: "nowrap",
        }}
      >
        Normalized flux
      </div>
      <div
        style={{
          position: "absolute",
          left: 411 - 40,
          top: 258 - 10,
          width: 80,
          height: 20,
          lineHeight: "20px",
          textAlign: "center",
          fontFamily: FONT,
          fontSize: 16,
          color: "#000",
        }}
      >
        Date
      </div>
    </div>
  );
}
